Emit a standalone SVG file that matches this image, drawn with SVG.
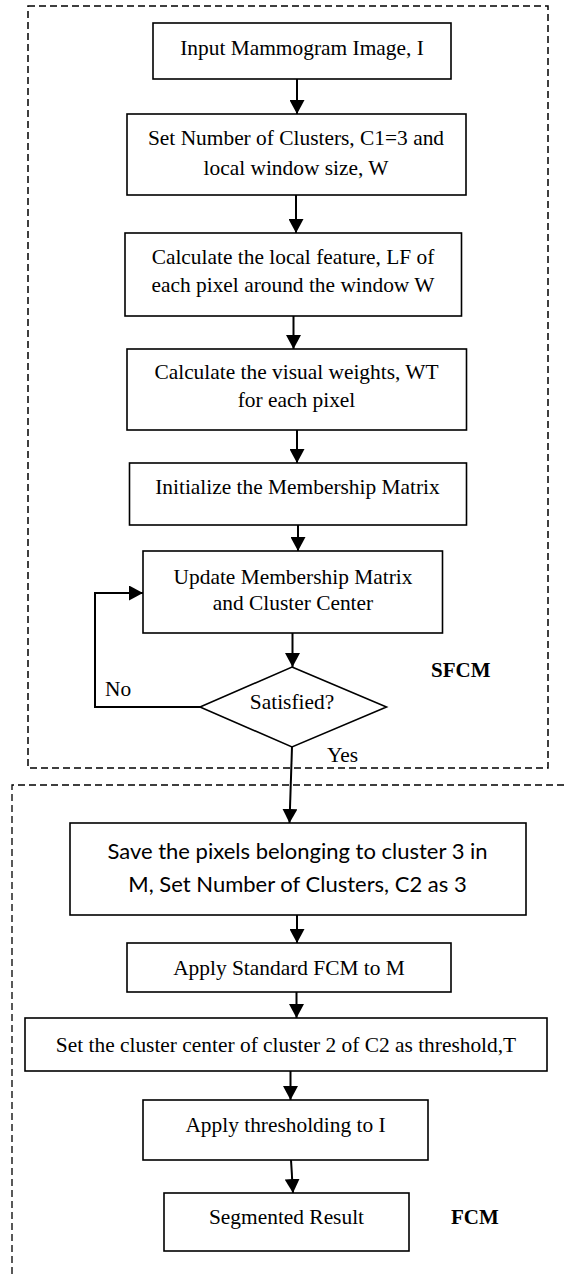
<svg xmlns="http://www.w3.org/2000/svg" width="564" height="1277" viewBox="0 0 564 1277">
<defs>
<marker id="ah" markerUnits="userSpaceOnUse" markerWidth="15" markerHeight="15" refX="14" refY="7.5" orient="auto">
<path d="M0,0 L14,7.5 L0,15 z" fill="#000"/>
</marker>
<style>
.bg{fill:#fff}
.box{fill:#fff;stroke:#000;stroke-width:1.6}
.t{font-family:"Liberation Serif","Times New Roman",serif;font-size:21.4px;fill:#000;text-anchor:middle}
.tl{font-family:"Liberation Serif","Times New Roman",serif;font-size:21.4px;fill:#000}
.tb{font-family:"Liberation Serif","Times New Roman",serif;font-size:21px;font-weight:bold;fill:#000}
.c{font-family:Lato,"Open Sans",sans-serif;font-size:22px;fill:#000;text-anchor:middle}
.dash1{fill:none;stroke:#000;stroke-width:1.5;stroke-dasharray:7,4}
.dash2{fill:none;stroke:#000;stroke-width:1.3;stroke-dasharray:7,4}
.ar{fill:none;stroke:#000;stroke-width:2}
</style>
</defs>
<rect class="bg" x="0" y="0" width="564" height="1277"/>
<g id="groups">
<rect id="sfcm-region" class="dash1" x="28" y="6" width="520" height="762"/>
<path id="fcm-region" class="dash2" d="M564,785 H12 V1277"/>
</g>
<g id="connectors">
<line class="ar" x1="297" y1="79" x2="297" y2="114" marker-end="url(#ah)"/>
<line class="ar" x1="296" y1="195" x2="296" y2="233" marker-end="url(#ah)"/>
<line class="ar" x1="293.5" y1="316" x2="293.5" y2="349" marker-end="url(#ah)"/>
<line class="ar" x1="297" y1="430" x2="297" y2="463" marker-end="url(#ah)"/>
<line class="ar" x1="298" y1="525" x2="298" y2="551" marker-end="url(#ah)"/>
<line class="ar" x1="292.5" y1="633" x2="292.5" y2="667" marker-end="url(#ah)"/>
<path class="ar" d="M200,707 H95 V593 H143" marker-end="url(#ah)"/>
<line class="ar" x1="292" y1="747" x2="289.5" y2="823" marker-end="url(#ah)"/>
<line class="ar" x1="297" y1="915" x2="297" y2="943" marker-end="url(#ah)"/>
<line class="ar" x1="296.5" y1="992" x2="296.5" y2="1018" marker-end="url(#ah)"/>
<line class="ar" x1="290.5" y1="1071" x2="290.5" y2="1100" marker-end="url(#ah)"/>
<line class="ar" x1="291" y1="1160" x2="293" y2="1193" marker-end="url(#ah)"/>
<text class="tl" x="105" y="696">No</text>
<text class="tl" x="327" y="762">Yes</text>
</g>
<g id="n1">
<rect class="box" x="153" y="23" width="298" height="56"/>
<text class="t" x="302" y="55">Input Mammogram Image, I</text>
</g>
<g id="n2">
<rect class="box" x="127" y="114" width="339" height="81"/>
<text class="t" x="296" y="145">Set Number of Clusters, C1=3 and</text>
<text class="t" x="296" y="175">local window size, W</text>
</g>
<g id="n3">
<rect class="box" x="125" y="233" width="336.5" height="83"/>
<text class="t" x="293" y="264">Calculate the local feature, LF of</text>
<text class="t" x="293" y="292">each pixel around the window W</text>
</g>
<g id="n4">
<rect class="box" x="127" y="349" width="339.5" height="81"/>
<text class="t" x="296.5" y="379">Calculate the visual weights, WT</text>
<text class="t" x="296.5" y="407">for each pixel</text>
</g>
<g id="n5">
<rect class="box" x="129.5" y="463" width="337" height="62"/>
<text class="t" x="297.5" y="494">Initialize the Membership Matrix</text>
</g>
<g id="n6">
<rect class="box" x="143" y="551" width="299.5" height="82"/>
<text class="t" x="293" y="584">Update Membership Matrix</text>
<text class="t" x="293" y="610">and Cluster Center</text>
</g>
<g id="n7">
<path class="box" d="M292,667 L386.5,707 L292,747 L200,707 Z"/>
<text class="t" x="292" y="709">Satisfied?</text>
</g>
<g id="label-sfcm">
<text class="tb" x="431" y="677">SFCM</text>
</g>
<g id="n8">
<rect class="box" x="70" y="823" width="456" height="92"/>
<text class="c" x="297.5" y="859">Save the pixels belonging to cluster 3 in</text>
<text class="c" x="297.5" y="892">M, Set Number of Clusters, C2 as 3</text>
</g>
<g id="n9">
<rect class="box" x="127" y="943" width="324" height="49"/>
<text class="t" x="289" y="975">Apply Standard FCM to M</text>
</g>
<g id="n10">
<rect class="box" x="25" y="1018" width="522" height="53"/>
<text class="t" x="286" y="1052">Set the cluster center of cluster 2 of C2 as threshold,T</text>
</g>
<g id="n11">
<rect class="box" x="143" y="1100" width="285" height="60"/>
<text class="t" x="285.5" y="1132">Apply thresholding to I</text>
</g>
<g id="n12">
<rect class="box" x="164" y="1193" width="245" height="58"/>
<text class="t" x="286.5" y="1224">Segmented Result</text>
</g>
<g id="label-fcm">
<text class="tb" x="451" y="1224">FCM</text>
</g>
</svg>
